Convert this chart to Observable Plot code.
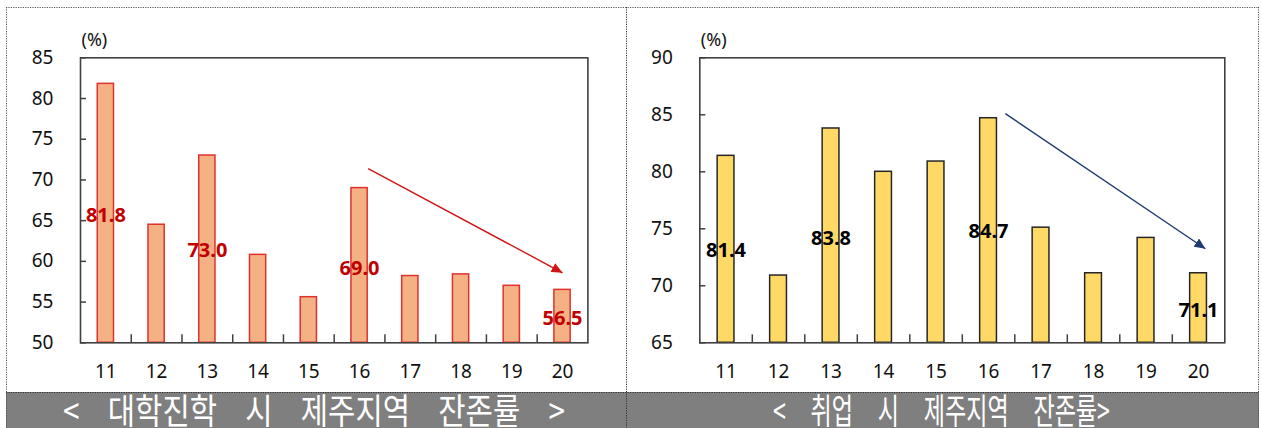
<!DOCTYPE html>
<html>
<head>
<meta charset="utf-8">
<script src="https://cdn.jsdelivr.net/npm/d3@7"></script>
<script src="https://cdn.jsdelivr.net/npm/@observablehq/plot@0.6"></script>
<style>
  html, body { margin: 0; padding: 0; background: #fff; }
  #wrap { position: relative; width: 1262px; height: 428px; overflow: hidden; }
  #bg { position: absolute; left: 0; top: 0; }
  .panel { position: absolute; top: 0; }
</style>
</head>
<body>
<div id="wrap">
  <svg id="bg" width="1262" height="428"></svg>
  <div class="panel" id="left" style="left:0px"></div>
  <div class="panel" id="right" style="left:626px"></div>
</div>
<script>
// ---- data ----
const years = [11, 12, 13, 14, 15, 16, 17, 18, 19, 20];
const univRate = [81.8, 64.5, 73.0, 60.8, 55.6, 69.0, 58.2, 58.4, 57.0, 56.5];
const jobRate  = [81.4, 70.9, 83.8, 80.0, 80.9, 84.7, 75.1, 71.1, 74.2, 71.1];

const univTicks = [50, 55, 60, 65, 70, 75, 80, 85];
const jobTicks  = [65, 70, 75, 80, 85, 90];

const univLabelYears = [11, 13, 16, 20];
const univLabelText  = ["81.8", "73.0", "69.0", "56.5"];
const univLabelAt    = [65.6, 61.3, 59.1, 53.0];

const jobLabelYears = [11, 13, 16, 20];
const jobLabelText  = ["81.4", "83.8", "84.7", "71.1"];
const jobLabelAt    = [73.1, 74.15, 74.75, 67.8];

const univTrendX = [16.17, 20.0];
const univTrendY = [71.4, 58.6];
const jobTrendX  = [16.32, 20.13];
const jobTrendY  = [85.1, 73.25];

const unitLabel = "(%)";
const captionUniv = "< 대학진학 시 제주지역 잔존률 >";
const captionJob  = "< 취업 시 제주지역 잔존률>";

const FONT = '"Noto Sans CJK KR", "Noto Sans", sans-serif';
const NUMFONT = '"Noto Sans", "Open Sans", sans-serif';

function chart(o) {
  const rows = years.map((y, i) => ({year: y, value: o.values[i]}));
  const labels = o.labelYears.map((y, i) => ({year: y, text: o.labelText[i], at: o.labelAt[i]}));
  const trend = [{x1: o.trendX[0], y1: o.trendY[0], x2: o.trendX[1], y2: o.trendY[1]}];
  const bounds = years.slice(1).map(y => y - 0.5);
  const H = 390, mt = 57.3, mb = 47.7;
  const frameH = H - mt - mb;
  const frameW = o.width - o.marginLeft - o.marginRight;
  const svg = Plot.plot({
    width: o.width, height: H,
    marginTop: mt, marginBottom: mb, marginLeft: o.marginLeft, marginRight: o.marginRight,
    style: {fontFamily: NUMFONT, fontSize: "19px", color: "#000", background: "transparent", overflow: "visible"},
    x: {domain: [10.5, 20.5], axis: null},
    y: {domain: o.yDomain, axis: null},
    marks: [
      Plot.rectY(rows, {x1: d => d.year - 0.16, x2: d => d.year + 0.16, y1: o.yDomain[0], y2: "value",
        fill: o.fill, stroke: o.stroke, strokeWidth: 1.5}),
      Plot.tickX(bounds, {x: d => d, insetTop: frameH - 8, stroke: "#404040", strokeWidth: 1.5}),
      Plot.tickY(o.yTicks, {y: d => d, insetRight: frameW - 6, stroke: "#404040", strokeWidth: 1.5}),
      Plot.frame({stroke: "#404040", strokeWidth: 1.6}),
      Plot.axisX({ticks: years, tickSize: 0, tickPadding: 22, tickFormat: d => String(d), fontSize: 19, fill: "#111"}),
      Plot.axisY({ticks: o.yTicks, tickSize: 0, tickPadding: 27, tickFormat: d => String(d), fontSize: 19, fill: "#111"}),
      Plot.text([unitLabel], {frameAnchor: "top-left", lineAnchor: "middle", dx: 1, dy: -18, textAnchor: "start",
        fontSize: 18, fill: "#111"}),
      Plot.link(trend, {x1: "x1", y1: "y1", x2: "x2", y2: "y2", stroke: o.arrowColor, strokeWidth: 1.4}),
      Plot.text(labels, {x: "year", y: "at", text: "text", fill: o.labelColor, fontWeight: "bold", fontSize: 20})
    ]
  });
  // filled arrowhead for the trend line
  const s = d3.select(svg);
  const id = "head-" + o.id;
  s.append("defs").append("marker")
    .attr("id", id).attr("viewBox", "0 0 11 10").attr("refX", 11).attr("refY", 5)
    .attr("markerUnits", "userSpaceOnUse").attr("markerWidth", 11).attr("markerHeight", 10)
    .attr("orient", "auto")
    .append("path").attr("d", "M0,0L11,5L0,10Z").attr("fill", o.arrowColor);
  s.selectAll('g[aria-label="link"] path').attr("marker-end", `url(#${id})`);
  return svg;
}

document.getElementById("left").appendChild(chart({
  id: "univ", width: 626, marginLeft: 80, marginRight: 38.6,
  values: univRate, yDomain: [50, 85], yTicks: univTicks,
  fill: "#F4B183", stroke: "#E0312F", labelColor: "#C00000", arrowColor: "#D01414",
  labelYears: univLabelYears, labelText: univLabelText, labelAt: univLabelAt,
  trendX: univTrendX, trendY: univTrendY
}));

document.getElementById("right").appendChild(chart({
  id: "job", width: 636, marginLeft: 73.3, marginRight: 37.7,
  values: jobRate, yDomain: [65, 90], yTicks: jobTicks,
  fill: "#FFD966", stroke: "#262626", labelColor: "#000", arrowColor: "#1F3B73",
  labelYears: jobLabelYears, labelText: jobLabelText, labelAt: jobLabelAt,
  trendX: jobTrendX, trendY: jobTrendY
}));

// ---- background: dotted frame, grey caption band, captions ----
const bg = d3.select("#bg");
bg.append("rect").attr("x", 6).attr("y", 392).attr("width", 1253).attr("height", 40).attr("fill", "#7f7f7f");
const dotted = (x1, y1, x2, y2, c) => bg.append("line")
  .attr("x1", x1).attr("y1", y1).attr("x2", x2).attr("y2", y2)
  .attr("stroke", c).attr("stroke-width", 1).attr("stroke-dasharray", "1.2,1.2");
dotted(6, 7.5, 1259, 7.5, "#555");
dotted(6.5, 7, 6.5, 428, "#555");
dotted(1258.5, 7, 1258.5, 428, "#555");
dotted(626.5, 7, 626.5, 428, "#333");
dotted(6, 392.5, 1259, 392.5, "#333");

function caption(str, cx, target, sx, sy) {
  const base = 424;
  const t = bg.append("text").text(str)
    .attr("x", cx).attr("y", base).attr("text-anchor", "middle")
    .attr("fill", "#fff").attr("font-family", FONT).attr("font-size", 33);
  const L0 = t.node().getComputedTextLength();
  const nSp = (str.match(/ /g) || []).length;
  const ws = Math.max(0, (target / sx - L0) / nSp);
  t.attr("word-spacing", ws);
  t.attr("transform", `translate(${cx},${base}) scale(${sx},${sy}) translate(${-cx},${-base})`);
}
caption(captionUniv, 314, 502, 0.9, 1.08);
caption(captionJob, 941.5, 337, 0.7, 1.08);
</script>
</body>
</html>
